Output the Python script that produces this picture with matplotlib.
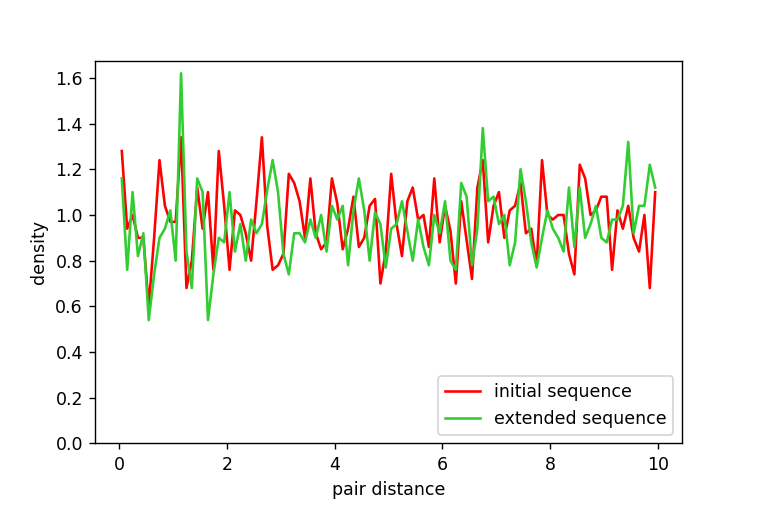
import numpy as np
import matplotlib
matplotlib.use("Agg")
import matplotlib.pyplot as plt

# bin centres of the pair distance histogram
dist = np.arange(100) * 0.1 + 0.05

initial = [1.28, 0.94, 1.00, 0.90, 0.90, 0.60, 0.90, 1.24, 1.04, 0.97,
           0.97, 1.34, 0.68, 0.80, 1.12, 0.94, 1.10, 0.76, 1.28, 1.04,
           0.76, 1.02, 1.00, 0.92, 0.80, 1.06, 1.34, 0.95, 0.76, 0.78,
           0.83, 1.18, 1.14, 1.06, 0.90, 1.16, 0.92, 0.85, 0.88, 1.16,
           1.05, 0.85, 0.94, 1.08, 0.86, 0.90, 1.04, 1.07, 0.70, 0.84,
           1.18, 0.96, 0.82, 1.06, 1.12, 0.98, 1.00, 0.86, 1.16, 0.88,
           1.04, 0.93, 0.70, 1.06, 0.89, 0.72, 1.12, 1.24, 0.88, 1.04,
           1.10, 0.90, 1.02, 1.04, 1.14, 0.92, 0.94, 0.78, 1.24, 1.00,
           0.98, 1.00, 1.00, 0.83, 0.74, 1.22, 1.16, 1.00, 1.02, 1.08,
           1.08, 0.76, 1.02, 0.94, 1.04, 0.90, 0.84, 1.00, 0.68, 1.10]

extended = [1.16, 0.76, 1.10, 0.82, 0.92, 0.54, 0.74, 0.90, 0.94, 1.02,
            0.80, 1.62, 0.84, 0.68, 1.16, 1.10, 0.54, 0.74, 0.90, 0.88,
            1.10, 0.84, 0.96, 0.80, 0.98, 0.92, 0.96, 1.11, 1.24, 1.10,
            0.83, 0.74, 0.92, 0.92, 0.88, 0.98, 0.90, 1.00, 0.84, 1.04,
            0.98, 1.04, 0.78, 1.02, 1.16, 1.02, 0.80, 1.01, 0.96, 0.77,
            0.94, 0.96, 1.06, 0.93, 0.80, 0.98, 0.86, 0.78, 1.00, 0.92,
            1.06, 0.80, 0.76, 1.14, 1.08, 0.78, 0.94, 1.38, 1.06, 1.08,
            0.96, 1.00, 0.78, 0.88, 1.20, 1.06, 0.88, 0.77, 0.90, 1.02,
            0.94, 0.90, 0.84, 1.12, 0.86, 1.12, 0.90, 0.96, 1.04, 0.90,
            0.88, 0.98, 0.98, 1.04, 1.32, 0.92, 1.04, 1.04, 1.22, 1.12]

fig = plt.figure(figsize=(6.088, 4.064), dpi=125)
fig.subplots_adjust(left=0.125, right=0.896, top=0.880, bottom=0.127)
plt.plot(dist, initial, color='red', linewidth=1.5, label='initial sequence')
plt.plot(dist, extended, color='limegreen', linewidth=1.5, label='extended sequence')
plt.ylim(bottom=0)
plt.xlabel('pair distance')
plt.ylabel('density')
plt.legend(loc='lower right')
plt.savefig('out.png', dpi=125)
